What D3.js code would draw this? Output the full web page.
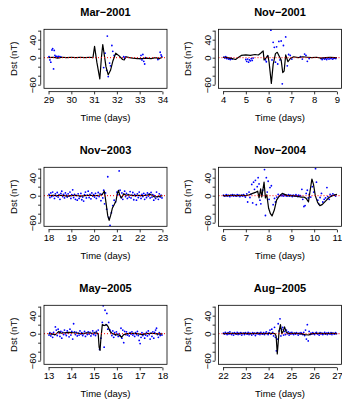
<!DOCTYPE html>
<html>
<head>
<meta charset="utf-8">
<script src="https://cdn.jsdelivr.net/npm/d3@7"></script>
<style>
body { margin: 0; background: #fff; }
svg { display: block; font-family: 'Liberation Sans', Arial, sans-serif; }
</style>
</head>
<body>
<div id="chart"></div>
<script>
// event titles and day ranges
const titles = ['Mar\u22122001', 'Nov\u22122001', 'Nov\u22122003', 'Nov\u22122004', 'May\u22122005', 'Aug\u22122005'];
const dayStart = [29, 4, 18, 6, 13, 22];
const dayEnd = [34, 9, 23, 11, 18, 27];
const yTicks = [-60, -40, -20, 0, 20, 40, 60];
const yLabelled = [40, 0, -60];

// black curves [day, nT]
const mar2001Line = [[29.0,0],[29.2,1],[29.4,-1],[29.6,1],[29.8,0],[30.0,1],[30.2,0],[30.4,1],[30.6,0],[30.8,1],[30.95,0],[31.02,25],[31.12,-10],[31.25,-47],[31.32,0],[31.38,29],[31.45,5],[31.52,-20],[31.62,-38],[31.72,-28],[31.82,-8],[31.95,10],[32.1,4],[32.25,-4],[32.32,-5],[32.4,2],[32.55,0],[32.7,-1],[32.9,-2],[33.1,-2],[33.3,-1],[33.5,-2],[33.7,0],[33.85,-2],[34.0,1]];
const nov2001Line = [[4.0,1],[4.2,0],[4.4,-2],[4.55,-4],[4.65,0],[4.8,5],[5.0,6],[5.2,5],[5.4,7],[5.55,6],[5.65,10],[5.72,13],[5.76,15],[5.8,-5],[5.9,0],[5.97,5],[6.02,-10],[6.12,-57],[6.2,-15],[6.3,9],[6.38,12],[6.45,5],[6.55,-5],[6.62,-33],[6.68,-30],[6.75,6],[6.85,-9],[6.95,-2],[7.1,2],[7.3,0],[7.5,2],[7.7,1],[7.9,0],[8.1,1],[8.3,-1],[8.5,0],[8.7,1],[8.9,0],[9.0,0]];
const nov2003Line = [[18.0,0],[18.2,1],[18.4,0],[18.6,1],[18.8,-1],[19.0,0],[19.2,1],[19.4,-1],[19.6,0],[19.8,1],[20.0,0],[20.2,1],[20.35,2],[20.45,10],[20.52,-15],[20.6,-45],[20.66,-55],[20.72,-45],[20.8,-28],[20.88,-20],[20.96,-12],[21.02,5],[21.07,12],[21.12,2],[21.2,-5],[21.3,4],[21.4,1],[21.5,2],[21.7,0],[21.9,1],[22.1,0],[22.3,1],[22.45,3],[22.55,1],[22.65,-3],[22.8,-2],[23.0,0]];
const nov2004Line = [[6.0,0],[6.2,0],[6.4,1],[6.6,0],[6.8,1],[7.0,0],[7.15,2],[7.3,5],[7.45,8],[7.52,10],[7.58,-5],[7.65,15],[7.7,-3],[7.8,30],[7.86,-5],[7.92,2],[8.0,-28],[8.08,-40],[8.15,-45],[8.25,-32],[8.35,-10],[8.45,-2],[8.6,5],[8.7,3],[8.85,0],[9.0,0],[9.2,-1],[9.4,-3],[9.55,-3],[9.65,-6],[9.75,-14],[9.82,10],[9.9,37],[9.97,25],[10.05,0],[10.15,-15],[10.25,-22],[10.35,-20],[10.5,-12],[10.65,-4],[10.8,0],[11.0,3]];
const may2005Line = [[13.0,0],[13.15,-1],[13.3,-2],[13.45,5],[13.55,1],[13.7,2],[13.9,3],[14.1,2],[14.3,1],[14.5,0],[14.7,2],[14.9,1],[15.1,2],[15.18,0],[15.22,-30],[15.26,-37],[15.3,-10],[15.36,20],[15.45,18],[15.55,20],[15.62,15],[15.7,5],[15.8,0],[15.95,-2],[16.1,-3],[16.2,-8],[16.3,-2],[16.45,0],[16.7,1],[16.9,0],[17.1,-2],[17.3,0],[17.5,1],[17.7,0],[17.9,-1],[18.0,0]];
const aug2005Line = [[22.0,0],[22.3,1],[22.6,0],[22.9,1],[23.2,0],[23.5,1],[23.8,0],[24.1,1],[24.28,0],[24.33,-5],[24.38,-45],[24.42,-20],[24.46,5],[24.52,20],[24.58,0],[24.64,5],[24.7,15],[24.78,3],[24.9,0],[25.1,1],[25.4,0],[25.6,-2],[25.75,-3],[25.9,0],[26.2,1],[26.5,0],[26.8,1],[27.0,0]];

// blue observations [day, nT]
const mar2001Obs = [[29.02,2],[29.06,-5],[29.1,-10],[29.15,17],[29.18,20],[29.22,-25],[29.25,16],[29.28,5],[29.32,2],[29.36,3],[29.4,1],[29.44,3],[29.5,2],[29.55,1],[31.42,-22],[31.48,10],[31.58,48],[31.55,-28],[31.62,-42],[31.68,-12],[31.72,-18],[31.78,27],[31.82,14],[31.88,5],[32.3,2],[32.34,-1],[32.38,1],[33.02,-2],[33.06,5],[33.1,-5],[33.14,7],[33.18,-8],[33.22,-14],[33.26,0],[33.8,-4],[33.85,-2],[33.9,12],[33.94,6],[33.97,3]];
const nov2001Obs = [[4.04,1],[4.08,-1],[4.12,2],[4.16,-2],[4.2,0],[4.24,-3],[4.28,-2],[4.32,-4],[4.36,-1],[4.4,-3],[5.0,-4],[5.04,-8],[5.08,-3],[5.12,-10],[5.16,-5],[5.2,-7],[5.24,-2],[5.28,-6],[5.32,-1],[5.86,-5],[5.9,-9],[5.95,3],[6.1,61],[6.15,-5],[6.2,34],[6.25,23],[6.3,-10],[6.35,24],[6.4,-14],[6.45,36],[6.5,-5],[6.55,37],[6.6,-58],[6.65,27],[6.75,46],[6.82,-18],[6.88,7],[6.95,5],[7.02,-3],[7.4,2],[7.48,-3],[7.58,8],[7.64,5],[7.7,-8],[7.78,-2],[8.3,-2],[8.35,-4],[8.4,-1],[8.45,-3],[8.5,-2],[8.55,-4],[8.6,-1],[8.65,-3],[8.7,-2],[8.75,-1],[8.8,-3],[8.85,-2],[8.9,-1],[8.95,-2]];
const nov2003Obs = [[18.02,3],[18.06,-4],[18.1,6],[18.14,-2],[18.18,8],[18.22,0],[18.26,-6],[18.3,4],[18.34,-1],[18.38,7],[18.42,-3],[18.46,2],[18.5,-8],[18.54,5],[18.58,10],[18.62,-2],[18.66,3],[18.7,-5],[18.74,6],[18.78,1],[18.82,-3],[18.86,4],[18.9,-1],[18.94,8],[18.98,-6],[19.02,2],[19.06,13],[19.1,-4],[19.14,3],[19.18,-8],[19.22,0],[19.26,-10],[19.3,4],[19.34,-6],[19.38,-2],[19.42,5],[19.46,-9],[19.5,-3],[19.54,-12],[19.58,2],[19.62,8],[19.66,-5],[19.7,1],[19.74,10],[19.78,-4],[19.82,3],[19.86,-7],[19.9,6],[19.94,-1],[19.98,2],[20.02,-3],[20.06,5],[20.1,-6],[20.14,0],[20.18,7],[20.22,-2],[20.26,4],[20.3,-11],[20.34,3],[20.38,-5],[20.42,12],[20.46,-18],[20.5,6],[20.55,-30],[20.6,42],[20.64,-48],[20.7,-66],[20.76,-38],[20.82,-22],[20.88,-10],[20.94,-14],[21.0,8],[21.04,2],[21.1,55],[21.14,12],[21.18,-4],[21.22,6],[21.26,-8],[21.3,3],[21.34,10],[21.38,-2],[21.42,5],[21.46,-6],[21.5,2],[21.54,-3],[21.58,9],[21.62,-5],[21.66,1],[21.7,7],[21.74,-9],[21.78,3],[21.82,-1],[21.86,-10],[21.9,4],[21.94,-4],[21.98,8],[22.02,0],[22.06,-6],[22.1,3],[22.14,-2],[22.18,5],[22.22,-8],[22.26,2],[22.3,-4],[22.34,6],[22.38,-1],[22.42,4],[22.46,-5],[22.5,7],[22.54,-3],[22.58,2],[22.62,-10],[22.66,0],[22.7,-6],[22.74,8],[22.78,-2],[22.82,-8],[22.86,4],[22.9,-3],[22.94,1],[22.98,-5]];
const nov2004Obs = [[6.02,1],[6.06,-1],[6.1,0],[6.14,2],[6.18,-1],[6.22,1],[6.26,0],[6.3,-2],[6.34,1],[6.38,0],[6.42,2],[6.46,-1],[6.5,1],[6.54,0],[6.58,-1],[6.62,2],[6.66,0],[6.7,1],[6.74,-2],[6.78,0],[6.82,1],[6.86,-1],[6.9,2],[6.94,0],[6.98,-3],[7.04,4],[7.08,-14],[7.14,8],[7.18,-4],[7.22,3],[7.26,25],[7.3,-16],[7.34,30],[7.38,14],[7.42,34],[7.46,-20],[7.5,20],[7.54,40],[7.58,26],[7.62,-10],[7.66,-18],[7.7,2],[7.74,12],[7.82,58],[7.86,-44],[7.9,40],[7.94,8],[7.98,32],[8.02,-8],[8.06,18],[8.12,22],[8.2,-20],[8.26,-6],[8.3,-14],[8.36,-3],[8.42,3],[8.48,-1],[8.52,1],[8.56,0],[8.6,1],[8.64,-1],[8.68,2],[8.72,0],[8.76,1],[8.8,-1],[8.84,0],[8.88,2],[8.92,-1],[8.96,1],[9.0,0],[9.04,-2],[9.08,1],[9.12,0],[9.16,-1],[9.2,2],[9.24,0],[9.28,-2],[9.32,1],[9.36,-1],[9.4,0],[9.46,14],[9.5,-8],[9.55,-24],[9.6,-22],[9.65,5],[9.7,12],[9.74,-5],[9.78,3],[9.85,-3],[9.92,20],[9.98,8],[10.06,60],[10.1,30],[10.16,-10],[10.2,-18],[10.26,-4],[10.32,5],[10.38,-14],[10.44,-8],[10.5,-5],[10.56,18],[10.6,-2],[10.66,-8],[10.7,3],[10.76,0],[10.82,4],[10.88,1],[10.94,-1]];
const may2005Obs = [[13.02,-3],[13.06,2],[13.1,-5],[13.14,0],[13.18,-8],[13.22,3],[13.26,-2],[13.3,15],[13.34,8],[13.38,-4],[13.42,10],[13.46,2],[13.5,-6],[13.54,5],[13.58,-10],[13.62,3],[13.66,-2],[13.7,8],[13.74,0],[13.78,-4],[13.82,6],[13.86,2],[13.9,-7],[13.94,10],[13.98,-3],[14.02,5],[14.06,-12],[14.1,22],[14.14,4],[14.18,-2],[14.22,3],[14.26,-5],[14.3,1],[14.34,-3],[14.38,6],[14.42,-1],[14.46,2],[14.5,-4],[14.54,0],[14.58,5],[14.62,-6],[14.66,1],[14.7,-2],[14.74,4],[14.78,-1],[14.82,3],[14.86,-5],[14.9,0],[14.94,6],[14.98,-2],[15.02,2],[15.06,-4],[15.1,5],[15.14,0],[15.18,8],[15.24,-35],[15.3,-10],[15.36,25],[15.4,62],[15.44,-30],[15.48,52],[15.52,20],[15.56,45],[15.6,10],[15.64,25],[15.7,8],[15.74,3],[15.78,-4],[15.82,6],[15.86,-8],[15.9,2],[15.94,-3],[15.98,4],[16.02,-1],[16.06,-6],[16.1,0],[16.14,-4],[16.18,12],[16.22,-10],[16.26,8],[16.3,-20],[16.34,5],[16.38,-2],[16.42,4],[16.46,-3],[16.5,0],[16.54,-5],[16.58,2],[16.62,-1],[16.66,4],[16.7,-3],[16.74,0],[16.78,-6],[16.82,2],[16.86,-2],[16.9,5],[16.94,-4],[16.98,-15],[17.02,-22],[17.06,-8],[17.1,2],[17.14,-4],[17.18,0],[17.22,-10],[17.26,-3],[17.3,3],[17.34,-5],[17.38,6],[17.42,-2],[17.46,-12],[17.5,1],[17.54,-6],[17.58,4],[17.62,-10],[17.66,3],[17.7,8],[17.74,12],[17.78,-2],[17.82,-8],[17.86,2],[17.9,-4],[17.94,0],[17.98,-3]];
const aug2005Obs = [[22.02,1],[22.06,-1],[22.1,3],[22.14,0],[22.18,-2],[22.22,2],[22.26,-1],[22.3,4],[22.34,0],[22.38,-2],[22.42,1],[22.46,-3],[22.5,2],[22.54,0],[22.58,-1],[22.62,3],[22.66,-2],[22.7,1],[22.74,-1],[22.78,2],[22.82,-3],[22.86,0],[22.9,1],[22.94,-2],[22.98,2],[23.02,0],[23.06,-1],[23.1,3],[23.14,-2],[23.18,1],[23.22,0],[23.26,-3],[23.3,2],[23.34,-1],[23.38,1],[23.42,-4],[23.46,0],[23.5,2],[23.54,-1],[23.58,1],[23.62,-2],[23.66,3],[23.7,0],[23.74,-1],[23.78,2],[23.82,-2],[23.86,1],[23.9,4],[23.94,0],[23.98,-2],[24.02,2],[24.06,8],[24.1,-1],[24.14,10],[24.18,3],[24.22,-5],[24.26,14],[24.3,-8],[24.34,-38],[24.38,-12],[24.42,22],[24.46,6],[24.5,33],[24.54,-5],[24.58,10],[24.62,14],[24.66,-3],[24.7,5],[24.74,-2],[24.78,8],[24.82,0],[24.86,4],[24.9,-3],[24.94,2],[24.98,-1],[25.02,3],[25.06,0],[25.1,-2],[25.14,1],[25.18,-1],[25.22,2],[25.26,0],[25.3,-3],[25.34,1],[25.38,-1],[25.42,2],[25.46,0],[25.5,-2],[25.54,3],[25.58,-4],[25.62,8],[25.66,-12],[25.7,20],[25.74,-16],[25.78,5],[25.82,-2],[25.86,1],[25.9,-1],[25.94,2],[25.98,0],[26.02,-2],[26.06,1],[26.1,3],[26.14,-1],[26.18,0],[26.22,-3],[26.26,2],[26.3,-1],[26.34,1],[26.38,-2],[26.42,0],[26.46,3],[26.5,-1],[26.54,1],[26.58,-2],[26.62,2],[26.66,0],[26.7,-1],[26.74,2],[26.78,-2],[26.82,1],[26.86,0],[26.9,-1],[26.94,2],[26.98,0]];

const lines = [mar2001Line, nov2001Line, nov2003Line, nov2004Line, may2005Line, aug2005Line];
const observations = [mar2001Obs, nov2001Obs, nov2003Obs, nov2004Obs, may2005Obs, aug2005Obs];

const totalWidth = 342;
const totalHeight = 399;
const colLeft = [44, 218.5];
const rowTop = [29.3, 167.3, 305.3];
const boxW = 123;
const boxH = 59;
const axisGap = 3.3; // axes sit slightly outside the frame
const fontSize = 9.5;
const minus = (d) => (d < 0 ? '\u2212' + Math.abs(d) : String(d));

const svg = d3
    .select('#chart')
    .append('svg')
    .attr('width', totalWidth)
    .attr('height', totalHeight);

titles.forEach((title, i) => {
    const col = i % 2;
    const row = Math.floor(i / 2);
    const g = svg
        .append('g')
        .attr('transform', `translate(${colLeft[col]},${rowTop[row]})`);

    const x = d3
        .scaleLinear()
        .domain([dayStart[i] - 0.2, dayEnd[i] + 0.2])
        .range([0, boxW]);
    const y = d3.scaleLinear().domain([-68, 63]).range([boxH, 0]);

    g.append('clipPath')
        .attr('id', 'clip' + i)
        .append('rect')
        .attr('width', boxW)
        .attr('height', boxH);

    const plot = g.append('g').attr('clip-path', `url(#clip${i})`);

    plot.selectAll('circle')
        .data(observations[i])
        .enter()
        .append('circle')
        .attr('cx', (d) => x(d[0]))
        .attr('cy', (d) => y(d[1]))
        .attr('r', 0.9)
        .attr('fill', '#0000ff');

    plot.append('path')
        .datum(lines[i])
        .attr('fill', 'none')
        .attr('stroke', '#000')
        .attr('stroke-width', 1.2)
        .attr('stroke-linejoin', 'round')
        .attr('d', d3.line().x((d) => x(d[0])).y((d) => y(d[1])));

    plot.append('line')
        .attr('x1', 0)
        .attr('x2', boxW)
        .attr('y1', y(0))
        .attr('y2', y(0))
        .attr('stroke', 'red')
        .attr('stroke-width', 1)
        .attr('stroke-dasharray', '1,2');

    // frame
    g.append('rect')
        .attr('width', boxW)
        .attr('height', boxH)
        .attr('fill', 'none')
        .attr('stroke', '#000')
        .attr('stroke-width', 0.8);

    // x axis
    const xAxis = g
        .append('g')
        .attr('transform', `translate(0,${boxH + axisGap})`)
        .call(
            d3
                .axisBottom(x)
                .tickValues(d3.range(dayStart[i], dayEnd[i] + 1))
                .tickSize(2.8)
                .tickSizeOuter(0)
                .tickPadding(1.6)
                .tickFormat(d3.format('d')),
        );
    xAxis.select('.domain').remove();
    xAxis.append('line')
        .attr('x1', x(dayStart[i]))
        .attr('x2', x(dayEnd[i]))
        .attr('stroke', '#000');
    xAxis.selectAll('line').attr('stroke-width', 0.8);
    xAxis.selectAll('text').attr('font-size', fontSize).attr('font-family', null).attr('fill', '#000');

    // y axis
    const yAxis = g
        .append('g')
        .attr('transform', `translate(${-axisGap},0)`)
        .call(
            d3
                .axisLeft(y)
                .tickValues(yTicks)
                .tickSize(2.6)
                .tickSizeOuter(0)
                .tickFormat((d) => (yLabelled.includes(d) ? minus(d) : '')),
        );
    yAxis.select('.domain').remove();
    yAxis.append('line')
        .attr('y1', y(-60))
        .attr('y2', y(60))
        .attr('stroke', '#000');
    yAxis.selectAll('line').attr('stroke-width', 0.8);
    yAxis.selectAll('text')
        .attr('font-size', fontSize)
        .attr('font-family', null)
        .attr('fill', '#000')
        .attr('x', 0)
        .attr('y', -4.3)
        .attr('dy', 0)
        .attr('text-anchor', 'middle')
        .attr('transform', 'rotate(-90)');

    // labels
    g.append('text')
        .attr('x', boxW / 2)
        .attr('y', -13.6)
        .attr('text-anchor', 'middle')
        .attr('font-size', 11)
        .attr('font-weight', 'bold')
        .text(title);

    g.append('text')
        .attr('x', boxW / 2)
        .attr('y', boxH + 32.4)
        .attr('text-anchor', 'middle')
        .attr('font-size', fontSize)
        .text('Time (days)');

    g.append('text')
        .attr('transform', `translate(-27.3,${boxH / 2}) rotate(-90)`)
        .attr('text-anchor', 'middle')
        .attr('font-size', fontSize)
        .text('Dst (nT)');
});
</script>
</body>
</html>
